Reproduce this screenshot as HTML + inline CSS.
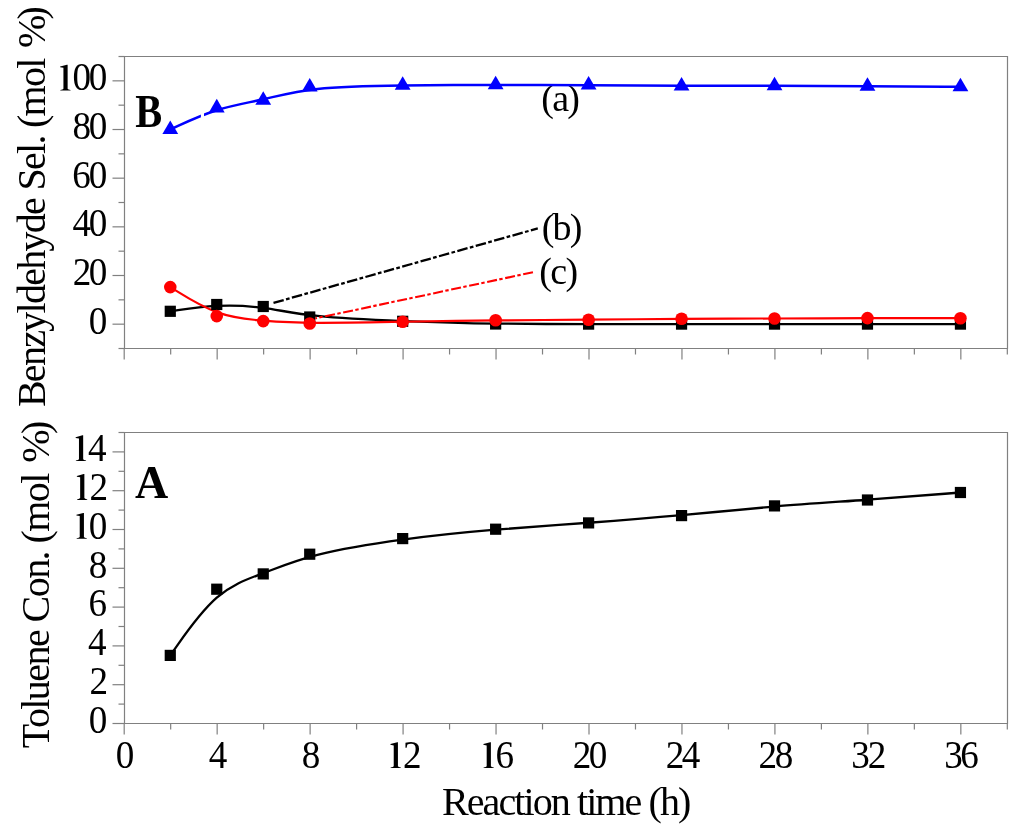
<!DOCTYPE html>
<html><head><meta charset="utf-8"><style>
html,body{margin:0;padding:0;background:#fff;width:1024px;height:832px;overflow:hidden;}
svg{display:block;font-family:"Liberation Serif",serif;will-change:transform;}
</style></head><body>
<svg width="1024" height="832" viewBox="0 0 1024 832">
<rect width="1024" height="832" fill="#fff"/>
<g stroke="#808080" stroke-width="1.2" fill="none">
<path d="M124.5,56.5 H1007.5 V348.5 H124.5 Z"/>
<path d="M112.5,324.17 H124.5"/>
<path d="M112.5,275.50 H124.5"/>
<path d="M112.5,226.84 H124.5"/>
<path d="M112.5,178.17 H124.5"/>
<path d="M112.5,129.51 H124.5"/>
<path d="M112.5,80.84 H124.5"/>
<path d="M118.5,348.50 H124.5"/>
<path d="M118.5,299.84 H124.5"/>
<path d="M118.5,251.17 H124.5"/>
<path d="M118.5,202.50 H124.5"/>
<path d="M118.5,153.84 H124.5"/>
<path d="M118.5,105.17 H124.5"/>
<path d="M118.5,56.51 H124.5"/>
<path d="M124.20,348.5 V359.5"/>
<path d="M170.68,348.5 V354.5"/>
<path d="M217.16,348.5 V359.5"/>
<path d="M263.64,348.5 V354.5"/>
<path d="M310.12,348.5 V359.5"/>
<path d="M356.60,348.5 V354.5"/>
<path d="M403.08,348.5 V359.5"/>
<path d="M449.56,348.5 V354.5"/>
<path d="M496.04,348.5 V359.5"/>
<path d="M542.52,348.5 V354.5"/>
<path d="M589.00,348.5 V359.5"/>
<path d="M635.48,348.5 V354.5"/>
<path d="M681.96,348.5 V359.5"/>
<path d="M728.44,348.5 V354.5"/>
<path d="M774.92,348.5 V359.5"/>
<path d="M821.40,348.5 V354.5"/>
<path d="M867.88,348.5 V359.5"/>
<path d="M914.36,348.5 V354.5"/>
<path d="M960.84,348.5 V359.5"/>
<path d="M1007.32,348.5 V354.5"/>
</g>
<g stroke="#808080" stroke-width="1.2" fill="none">
<path d="M124.5,432.5 H1007.5 V723.5 H124.5 Z"/>
<path d="M112.5,723.50 H124.5"/>
<path d="M112.5,684.70 H124.5"/>
<path d="M112.5,645.90 H124.5"/>
<path d="M112.5,607.10 H124.5"/>
<path d="M112.5,568.30 H124.5"/>
<path d="M112.5,529.50 H124.5"/>
<path d="M112.5,490.70 H124.5"/>
<path d="M112.5,451.90 H124.5"/>
<path d="M118.5,704.10 H124.5"/>
<path d="M118.5,665.30 H124.5"/>
<path d="M118.5,626.50 H124.5"/>
<path d="M118.5,587.70 H124.5"/>
<path d="M118.5,548.90 H124.5"/>
<path d="M118.5,510.10 H124.5"/>
<path d="M118.5,471.30 H124.5"/>
<path d="M118.5,432.50 H124.5"/>
<path d="M124.20,723.5 V734.5"/>
<path d="M170.68,723.5 V729.5"/>
<path d="M217.16,723.5 V734.5"/>
<path d="M263.64,723.5 V729.5"/>
<path d="M310.12,723.5 V734.5"/>
<path d="M356.60,723.5 V729.5"/>
<path d="M403.08,723.5 V734.5"/>
<path d="M449.56,723.5 V729.5"/>
<path d="M496.04,723.5 V734.5"/>
<path d="M542.52,723.5 V729.5"/>
<path d="M589.00,723.5 V734.5"/>
<path d="M635.48,723.5 V729.5"/>
<path d="M681.96,723.5 V734.5"/>
<path d="M728.44,723.5 V729.5"/>
<path d="M774.92,723.5 V734.5"/>
<path d="M821.40,723.5 V729.5"/>
<path d="M867.88,723.5 V734.5"/>
<path d="M914.36,723.5 V729.5"/>
<path d="M960.84,723.5 V734.5"/>
<path d="M1007.32,723.5 V729.5"/>
</g>
<g font-family="Liberation Serif" fill="#000">
<text transform="translate(88.85,333.77) scale(0.940,1)" font-size="39.50">0</text>
<text transform="translate(72.76,285.10) scale(0.940,1)" font-size="39.50">2</text><text transform="translate(88.85,285.10) scale(0.940,1)" font-size="39.50">0</text>
<text transform="translate(72.48,236.44) scale(0.940,1)" font-size="39.50">4</text><text transform="translate(88.85,236.44) scale(0.940,1)" font-size="39.50">0</text>
<text transform="translate(72.30,187.77) scale(0.940,1)" font-size="39.50">6</text><text transform="translate(88.85,187.77) scale(0.940,1)" font-size="39.50">0</text>
<text transform="translate(72.55,139.11) scale(0.940,1)" font-size="39.50">8</text><text transform="translate(88.85,139.11) scale(0.940,1)" font-size="39.50">0</text>
<path transform="translate(65.53,90.44)" d="M-5.2,0 L5.0,0 L5.0,-0.5 Q2.6,-0.9 2.1,-1.8 L2.1,-25.8 L1.4,-25.8 L-5.4,-23.9 L-5.4,-23.2 L-2.1,-22.6 L-2.1,-1.8 Q-2.6,-0.9 -5.2,-0.5 Z"/><text transform="translate(72.55,90.44) scale(0.940,1)" font-size="39.50">0</text><text transform="translate(88.85,90.44) scale(0.940,1)" font-size="39.50">0</text>
<text transform="translate(88.85,732.70) scale(0.940,1)" font-size="39.50">0</text>
<text transform="translate(89.48,693.90) scale(0.940,1)" font-size="39.50">2</text>
<text transform="translate(88.02,655.10) scale(0.940,1)" font-size="39.50">4</text>
<text transform="translate(88.54,616.30) scale(0.940,1)" font-size="39.50">6</text>
<text transform="translate(88.85,577.50) scale(0.940,1)" font-size="39.50">8</text>
<path transform="translate(81.83,538.70)" d="M-5.2,0 L5.0,0 L5.0,-0.5 Q2.6,-0.9 2.1,-1.8 L2.1,-25.8 L1.4,-25.8 L-5.4,-23.9 L-5.4,-23.2 L-2.1,-22.6 L-2.1,-1.8 Q-2.6,-0.9 -5.2,-0.5 Z"/><text transform="translate(88.85,538.70) scale(0.940,1)" font-size="39.50">0</text>
<path transform="translate(82.26,499.90)" d="M-5.2,0 L5.0,0 L5.0,-0.5 Q2.6,-0.9 2.1,-1.8 L2.1,-25.8 L1.4,-25.8 L-5.4,-23.9 L-5.4,-23.2 L-2.1,-22.6 L-2.1,-1.8 Q-2.6,-0.9 -5.2,-0.5 Z"/><text transform="translate(89.48,499.90) scale(0.940,1)" font-size="39.50">2</text>
<path transform="translate(81.07,461.10)" d="M-5.2,0 L5.0,0 L5.0,-0.5 Q2.6,-0.9 2.1,-1.8 L2.1,-25.8 L1.4,-25.8 L-5.4,-23.9 L-5.4,-23.2 L-2.1,-22.6 L-2.1,-1.8 Q-2.6,-0.9 -5.2,-0.5 Z"/><text transform="translate(88.02,461.10) scale(0.940,1)" font-size="39.50">4</text>
<text transform="translate(115.82,768.00) scale(0.940,1)" font-size="39.50">0</text>
<text transform="translate(208.70,768.00) scale(0.940,1)" font-size="39.50">4</text>
<text transform="translate(301.74,768.00) scale(0.940,1)" font-size="39.50">8</text>
<path transform="translate(395.83,768.00)" d="M-5.2,0 L5.0,0 L5.0,-0.5 Q2.6,-0.9 2.1,-1.8 L2.1,-25.8 L1.4,-25.8 L-5.4,-23.9 L-5.4,-23.2 L-2.1,-22.6 L-2.1,-1.8 Q-2.6,-0.9 -5.2,-0.5 Z"/><text transform="translate(403.06,768.00) scale(0.940,1)" font-size="39.50">2</text>
<path transform="translate(488.79,768.00)" d="M-5.2,0 L5.0,0 L5.0,-0.5 Q2.6,-0.9 2.1,-1.8 L2.1,-25.8 L1.4,-25.8 L-5.4,-23.9 L-5.4,-23.2 L-2.1,-22.6 L-2.1,-1.8 Q-2.6,-0.9 -5.2,-0.5 Z"/><text transform="translate(495.56,768.00) scale(0.940,1)" font-size="39.50">6</text>
<text transform="translate(572.68,768.00) scale(0.940,1)" font-size="39.50">2</text><text transform="translate(588.77,768.00) scale(0.940,1)" font-size="39.50">0</text>
<text transform="translate(665.64,768.00) scale(0.940,1)" font-size="39.50">2</text><text transform="translate(681.65,768.00) scale(0.940,1)" font-size="39.50">4</text>
<text transform="translate(758.60,768.00) scale(0.940,1)" font-size="39.50">2</text><text transform="translate(774.69,768.00) scale(0.940,1)" font-size="39.50">8</text>
<text transform="translate(851.18,768.00) scale(0.940,1)" font-size="39.50">3</text><text transform="translate(867.86,768.00) scale(0.940,1)" font-size="39.50">2</text>
<text transform="translate(944.14,768.00) scale(0.940,1)" font-size="39.50">3</text><text transform="translate(960.36,768.00) scale(0.940,1)" font-size="39.50">6</text>
<text transform="translate(45.3,407.1) rotate(-90) scale(0.980,1)" font-size="40.8" textLength="409.18" lengthAdjust="spacing">Benzyldehyde Sel. (mol <tspan dx="3">%</tspan><tspan dx="-3">)</tspan></text>
<text transform="translate(48.9,748.2) rotate(-90) scale(0.980,1)" font-size="40.8" textLength="334.18" lengthAdjust="spacing">Toluene Con. (mol <tspan dx="3">%</tspan><tspan dx="-3">)</tspan></text>
<text transform="translate(441.9,815.4) scale(0.980,1)" font-size="40.9" textLength="254.59" lengthAdjust="spacing">Reaction time (h)</text>
<text transform="translate(135.2,126.5) scale(0.868,1)" font-size="46.5" font-weight="bold">B</text>
<text x="135" y="497.5" font-size="46" font-weight="bold">A</text>
<text x="541.3" y="111.0" font-size="38" textLength="38.7" lengthAdjust="spacing">(a)</text>
<text x="541.7" y="240.2" font-size="38" textLength="40.6" lengthAdjust="spacing">(b)</text>
<text x="539.3" y="283.6" font-size="38" textLength="38.8" lengthAdjust="spacing">(c)</text>
</g>
<path d="M170.28,311.30 C170.28,311.30 170.28,311.30 178.03,310.17 C185.77,309.03 201.27,306.77 216.76,305.97 C232.25,305.17 247.75,305.83 263.24,307.92 C278.73,310.00 294.23,313.50 317.47,315.97 C340.71,318.43 371.69,319.87 402.68,321.03 C433.67,322.20 464.65,323.10 495.64,323.57 C526.63,324.03 557.61,324.07 588.60,324.08 C619.59,324.10 650.57,324.10 681.56,324.10 C712.55,324.10 743.53,324.10 774.52,324.10 C805.51,324.10 836.49,324.10 867.48,324.10 C898.47,324.10 929.45,324.10 944.95,324.10 C960.44,324.10 960.44,324.10 960.44,324.10" stroke="#000" stroke-width="2.3" fill="none"/>
<path d="M170.28,287.10 C170.28,287.10 170.28,287.10 178.03,291.93 C185.77,296.77 201.27,306.43 216.76,312.10 C232.25,317.77 247.75,319.43 263.24,320.67 C278.73,321.90 294.23,322.70 317.47,322.80 C340.71,322.90 371.69,322.30 402.68,321.77 C433.67,321.23 464.65,320.77 495.64,320.43 C526.63,320.10 557.61,319.90 588.60,319.65 C619.59,319.40 650.57,319.10 681.56,318.90 C712.55,318.70 743.53,318.60 774.52,318.48 C805.51,318.37 836.49,318.23 867.48,318.18 C898.47,318.13 929.45,318.17 944.95,318.18 C960.44,318.20 960.44,318.20 960.44,318.20" stroke="#ff0000" stroke-width="2.2" fill="none"/>
<path d="M170.28,129.50 C170.28,129.50 170.28,129.50 178.03,125.90 C185.77,122.30 201.27,115.10 216.76,110.22 C232.25,105.33 247.75,102.77 263.24,99.28 C278.73,95.80 294.23,91.40 317.47,88.92 C340.71,86.43 371.69,85.87 402.68,85.50 C433.67,85.13 464.65,84.97 495.64,84.92 C526.63,84.87 557.61,84.93 588.60,85.13 C619.59,85.33 650.57,85.67 681.56,85.78 C712.55,85.90 743.53,85.80 774.52,85.83 C805.51,85.87 836.49,86.03 867.48,86.22 C898.47,86.40 929.45,86.60 944.95,86.70 C960.44,86.80 960.44,86.80 960.44,86.80" stroke="#0000ff" stroke-width="2.5" fill="none"/>
<path d="M200.9,108 L204.0,108 L204.0,122 L200.9,122 Z" fill="#fff"/>
<path d="M273.5,302.9 L537.8,228.4" stroke="#000" stroke-width="2.3" stroke-dasharray="10.6 2.4 3.7 2.4" fill="none"/>
<path d="M315.3,318.4 L534.2,272" stroke="#ff0000" stroke-width="2.1" stroke-dasharray="10 2.4 3.4 2.6" stroke-dashoffset="8.3" fill="none"/>
<rect x="164.68" y="305.70" width="11.20" height="11.20" fill="#000"/>
<rect x="211.16" y="298.90" width="11.20" height="11.20" fill="#000"/>
<rect x="257.64" y="300.90" width="11.20" height="11.20" fill="#000"/>
<rect x="304.12" y="311.40" width="11.20" height="11.20" fill="#000"/>
<rect x="397.08" y="315.70" width="11.20" height="11.20" fill="#000"/>
<rect x="490.04" y="318.40" width="11.20" height="11.20" fill="#000"/>
<rect x="583.00" y="318.50" width="11.20" height="11.20" fill="#000"/>
<rect x="675.96" y="318.50" width="11.20" height="11.20" fill="#000"/>
<rect x="768.92" y="318.50" width="11.20" height="11.20" fill="#000"/>
<rect x="861.88" y="318.50" width="11.20" height="11.20" fill="#000"/>
<rect x="954.84" y="318.50" width="11.20" height="11.20" fill="#000"/>
<circle cx="170.28" cy="287.10" r="6.30" fill="#ff0000"/>
<circle cx="216.76" cy="316.10" r="6.30" fill="#ff0000"/>
<circle cx="263.24" cy="321.10" r="6.30" fill="#ff0000"/>
<circle cx="309.72" cy="323.50" r="6.30" fill="#ff0000"/>
<circle cx="402.68" cy="321.70" r="6.30" fill="#ff0000"/>
<circle cx="495.64" cy="320.30" r="6.30" fill="#ff0000"/>
<circle cx="588.60" cy="319.70" r="6.30" fill="#ff0000"/>
<circle cx="681.56" cy="318.80" r="6.30" fill="#ff0000"/>
<circle cx="774.52" cy="318.50" r="6.30" fill="#ff0000"/>
<circle cx="867.48" cy="318.10" r="6.30" fill="#ff0000"/>
<circle cx="960.44" cy="318.20" r="6.30" fill="#ff0000"/>
<path d="M170.28,120.43 L178.18,134.03 L162.38,134.03 Z" fill="#0000ff"/>
<path d="M216.76,98.83 L224.66,112.43 L208.86,112.43 Z" fill="#0000ff"/>
<path d="M263.24,91.13 L271.14,104.73 L255.34,104.73 Z" fill="#0000ff"/>
<path d="M309.72,77.93 L317.62,91.53 L301.82,91.53 Z" fill="#0000ff"/>
<path d="M402.68,76.23 L410.58,89.83 L394.78,89.83 Z" fill="#0000ff"/>
<path d="M495.64,75.73 L503.54,89.33 L487.74,89.33 Z" fill="#0000ff"/>
<path d="M588.60,75.93 L596.50,89.53 L580.70,89.53 Z" fill="#0000ff"/>
<path d="M681.56,76.93 L689.46,90.53 L673.66,90.53 Z" fill="#0000ff"/>
<path d="M774.52,76.63 L782.42,90.23 L766.62,90.23 Z" fill="#0000ff"/>
<path d="M867.48,77.13 L875.38,90.73 L859.58,90.73 Z" fill="#0000ff"/>
<path d="M960.44,77.73 L968.34,91.33 L952.54,91.33 Z" fill="#0000ff"/>
<path d="M170.28,655.40 C170.28,655.40 170.28,655.40 178.03,644.37 C185.77,633.33 201.27,611.27 216.76,597.68 C232.25,584.10 247.75,579.00 263.24,573.17 C278.73,567.33 294.23,560.77 317.47,554.88 C340.71,549.00 371.69,543.80 402.68,539.63 C433.67,535.47 464.65,532.33 495.64,529.72 C526.63,527.10 557.61,525.00 588.60,522.73 C619.59,520.47 650.57,518.03 681.56,515.20 C712.55,512.37 743.53,509.13 774.52,506.53 C805.51,503.93 836.49,501.97 867.48,499.73 C898.47,497.50 929.45,495.00 944.95,493.75 C960.44,492.50 960.44,492.50 960.44,492.50" stroke="#000" stroke-width="2.3" fill="none"/>
<rect x="164.68" y="649.80" width="11.20" height="11.20" fill="#000"/>
<rect x="211.16" y="583.60" width="11.20" height="11.20" fill="#000"/>
<rect x="257.64" y="568.30" width="11.20" height="11.20" fill="#000"/>
<rect x="304.12" y="548.60" width="11.20" height="11.20" fill="#000"/>
<rect x="397.08" y="533.00" width="11.20" height="11.20" fill="#000"/>
<rect x="490.04" y="523.60" width="11.20" height="11.20" fill="#000"/>
<rect x="583.00" y="517.30" width="11.20" height="11.20" fill="#000"/>
<rect x="675.96" y="510.00" width="11.20" height="11.20" fill="#000"/>
<rect x="768.92" y="500.30" width="11.20" height="11.20" fill="#000"/>
<rect x="861.88" y="494.40" width="11.20" height="11.20" fill="#000"/>
<rect x="954.84" y="486.90" width="11.20" height="11.20" fill="#000"/>
</svg>
</body></html>
